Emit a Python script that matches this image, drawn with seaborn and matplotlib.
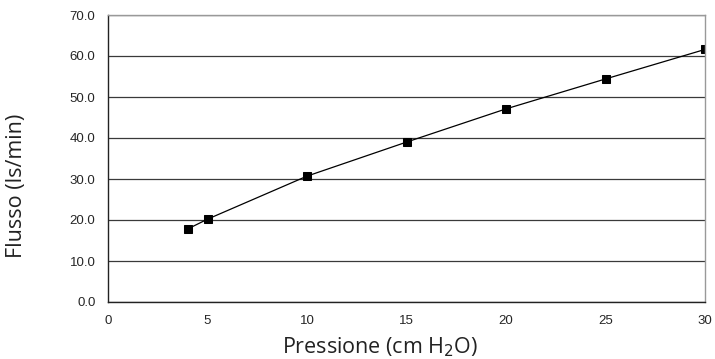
import matplotlib
matplotlib.use("Agg")
import matplotlib.pyplot as plt
import pandas as pd
import seaborn as sns

pressione = [4, 5, 10, 15, 20, 25, 30]
flusso = [17.8, 20.2, 30.7, 39.0, 47.1, 54.4, 61.6]

data = pd.DataFrame({"Pressione": pressione, "Flusso": flusso})

sns.set_style("white")
plt.rcParams['font.family'] = ['Liberation Sans', 'DejaVu Sans']

fig = plt.figure(figsize=(7.15, 3.59), dpi=100)
ax = fig.add_axes([108 / 715, 1 - 302 / 359, 597 / 715, 287 / 359])

ax.set_axisbelow(True)
ax.yaxis.grid(True, color="#3a3a3a", linewidth=0.9)
ax.xaxis.grid(False)

sns.lineplot(data=data, x="Pressione", y="Flusso", ax=ax, color="black",
             linewidth=0.9, marker="s", markersize=6, markeredgecolor="black",
             markerfacecolor="black")

ax.set_xlim(0, 30)
ax.set_ylim(0, 70)
ax.set_xticks(range(0, 31, 5))
ax.set_yticks(range(0, 71, 10))
ax.set_yticklabels([f"{v:.1f}" for v in range(0, 71, 10)])

for side in ["top", "right"]:
    ax.spines[side].set_color("#999999")
    ax.spines[side].set_linewidth(1.0)
for side in ["left", "bottom"]:
    ax.spines[side].set_color("#222222")
    ax.spines[side].set_linewidth(1.0)

ax.tick_params(axis="x", direction="out", length=4, width=1, color="#222222",
               labelsize=9.5, pad=5)
ax.tick_params(axis="y", direction="out", length=3, width=1, color="#222222",
               labelsize=9.5, pad=6)

ax.set_xlabel("Pressione (cm H$_2$O)", fontsize=15.5, family=["Open Sans", "DejaVu Sans"],
              color="#222222")
ax.set_ylabel("Flusso (ls/min)", fontsize=15.5, family=["Open Sans", "DejaVu Sans"],
              color="#222222")
ax.xaxis.label.set_va("center")
ax.yaxis.label.set_va("center")
ax.xaxis.set_label_coords(0.456, -0.157)
ax.yaxis.set_label_coords(-0.154, 0.404)

fig.savefig("out.png", dpi=100)
